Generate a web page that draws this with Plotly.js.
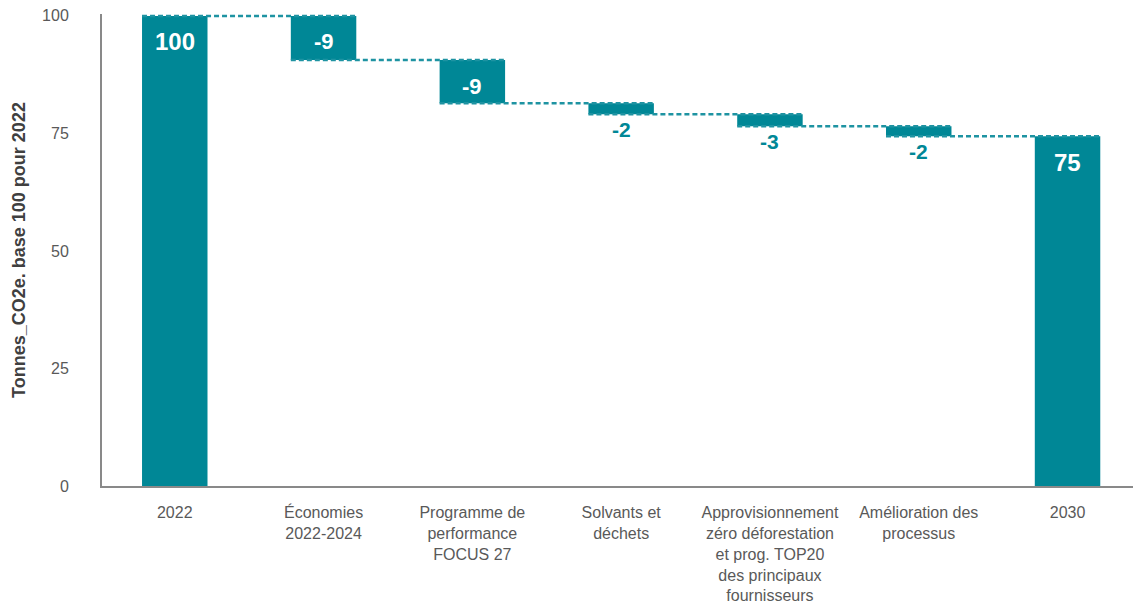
<!DOCTYPE html>
<html>
<head>
<meta charset="utf-8">
<script src="https://cdn.plot.ly/plotly-3.0.1.min.js"></script>
<style>html,body{margin:0;padding:0;background:#fff;}#chart{width:1133px;height:604px;}</style>
</head>
<body>
<div id="chart"></div>
<script>
const categories = ['2022', 'Économies<br>2022-2024', 'Programme de<br>performance<br>FOCUS 27', 'Solvants et<br>déchets', 'Approvisionnement<br>zéro déforestation<br>et prog. TOP20<br>des principaux<br>fournisseurs', 'Amélioration des<br>processus', '2030'];
const measures = ['absolute', 'relative', 'relative', 'relative', 'relative', 'relative', 'total'];
const values = [100, -9.4, -9.2, -2.3, -2.6, -2.1, 0];
const valueLabels = ['100', '-9', '-9', '-2', '-3', '-2', '75'];

const TEAL = '#008796';
const DASH = '#1e93a2';
const BARW = 0.44;

// compute bar starts / ends from the data
const starts = [], ends = [];
let run = 0;
for (let i = 0; i < values.length; i++) {
  if (measures[i] === 'absolute') { starts.push(0); run = values[i]; ends.push(run); }
  else if (measures[i] === 'total') { starts.push(0); ends.push(run); }
  else { starts.push(run); run += values[i]; ends.push(run); }
}

const annotations = [];
for (let i = 0; i < categories.length; i++) {
  const top = Math.max(starts[i], ends[i]);
  const bot = Math.min(starts[i], ends[i]);
  const big = (top - bot) >= 5;
  const isTotal = measures[i] !== 'relative';
  if (big) {
    annotations.push({x: i, y: top, xref: 'x', yref: 'y', yshift: -26, yanchor: 'middle',
      text: valueLabels[i], showarrow: false,
      font: {family: 'Liberation Sans, Arial, sans-serif', size: isTotal ? 24 : 22, color: '#ffffff', weight: 'bold'}});
  } else {
    annotations.push({x: i, y: bot, xref: 'x', yref: 'y', yshift: -15, yanchor: 'middle',
      text: valueLabels[i], showarrow: false,
      font: {family: 'Liberation Sans, Arial, sans-serif', size: 21, color: TEAL, weight: 'bold'}});
  }
}

// dashed series lines spanning from left edge of bar i to right edge of bar i+1
const shapes = [];
for (let i = 0; i < categories.length - 1; i++) {
  shapes.push({type: 'line', xref: 'x', yref: 'y', layer: 'above',
    x0: i - BARW / 2, x1: i + 1 + BARW / 2, y0: ends[i], y1: ends[i],
    line: {color: DASH, width: 2.5, dash: '5px,3px'}});
}

const trace = {
  type: 'waterfall',
  x: categories,
  y: values,
  measure: measures,
  width: categories.map(() => BARW),
  connector: {visible: false},
  increasing: {marker: {color: TEAL}},
  decreasing: {marker: {color: TEAL}},
  totals: {marker: {color: TEAL}},
  textinfo: 'none',
  hoverinfo: 'skip'
};

const layout = {
  width: 1133, height: 604,
  margin: {l: 102, r: 0, t: 14, b: 117.5},
  paper_bgcolor: '#ffffff', plot_bgcolor: '#ffffff',
  showlegend: false,
  font: {family: 'Liberation Sans, Arial, sans-serif', color: '#595959', size: 16},
  xaxis: {
    type: 'category',
    range: [-0.489, 6.44],
    showline: true, linecolor: '#898989', linewidth: 2,
    showgrid: false, zeroline: false, ticks: '',
    tickfont: {size: 16, color: '#595959'},
    ticklabelstandoff: 11
  },
  yaxis: {
    range: [0, 100.4],
    tickvals: [0, 25, 50, 75, 100],
    showline: true, linecolor: '#898989', linewidth: 2,
    showgrid: false, zeroline: false, ticks: '',
    tickfont: {size: 16, color: '#595959'},
    ticklabelstandoff: 28,
    title: {text: 'Tonnes_CO2e. base 100 pour 2022', standoff: 12,
      font: {size: 18, color: '#404040', weight: 'bold'}}
  },
  annotations: annotations,
  shapes: shapes
};

Plotly.newPlot('chart', [trace], layout, {displayModeBar: false, staticPlot: true});
</script>
</body>
</html>
